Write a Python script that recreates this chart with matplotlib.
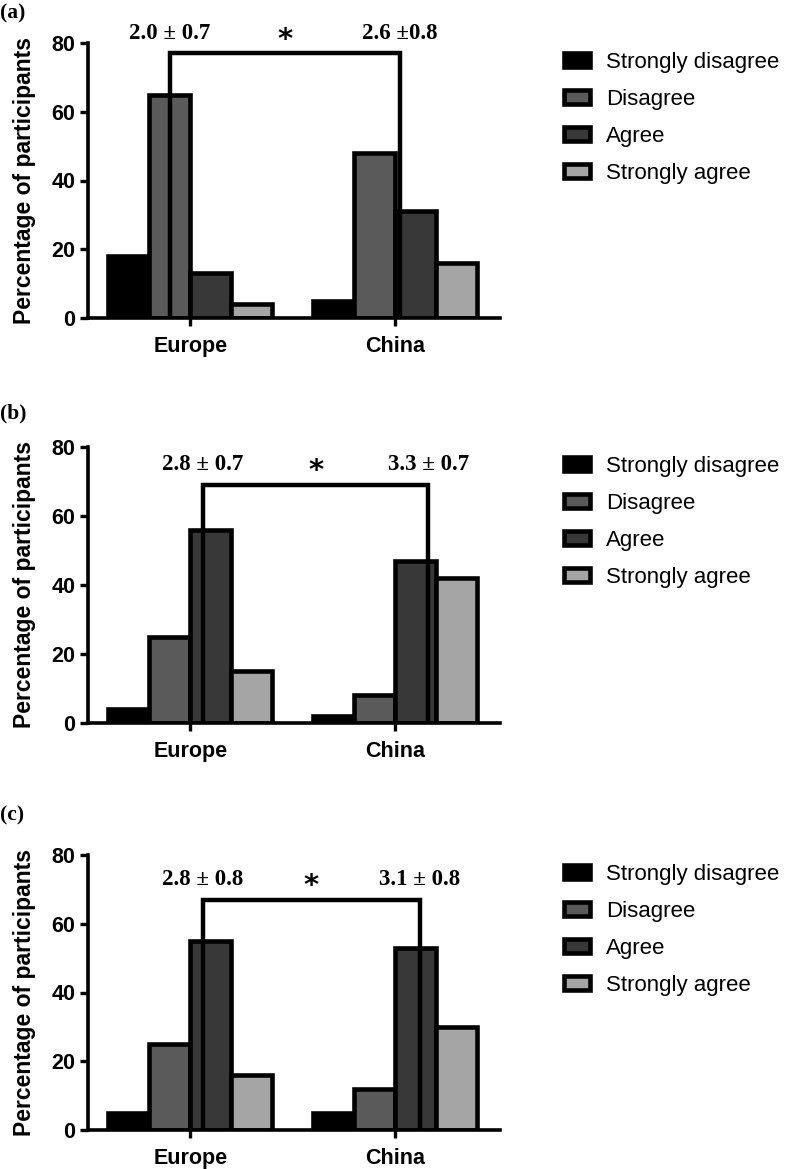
import matplotlib
matplotlib.use("Agg")
import matplotlib.pyplot as plt
import numpy as np

regions = ["Europe", "China"]
responses = ["Strongly disagree", "Disagree", "Agree", "Strongly agree"]
colors = ["#000000", "#5a5a5a", "#383838", "#a5a5a5"]

panel_labels = ["(a)", "(b)", "(c)"]
# values[panel][response] -> [Europe, China]
values_a = [[18, 5], [65, 48], [13, 31], [4, 16]]
values_b = [[4, 2], [25, 8], [56, 47], [15, 42]]
values_c = [[5, 5], [25, 12], [55, 53], [16, 30]]
means_a = [2.0, 2.6]
means_b = [2.8, 3.3]
means_c = [2.8, 3.1]
mean_texts_a = ["2.0 \u00b1 0.7", "2.6 \u00b10.8"]
mean_texts_b = ["2.8 \u00b1 0.7", "3.3 \u00b1 0.7"]
mean_texts_c = ["2.8 \u00b1 0.8", "3.1 \u00b1 0.8"]
bracket_heights = [77, 69, 67]
yticks = [0, 20, 40, 60, 80]

panels = [
    (values_a, means_a, mean_texts_a),
    (values_b, means_b, mean_texts_b),
    (values_c, means_c, mean_texts_c),
]

W, H = 787, 1169
fig = plt.figure(figsize=(W / 100, H / 100), dpi=100)

# axes boxes in pixels: (left, top, right, bottom)
boxes = [(88, 43, 500, 318), (88, 447, 500, 723), (88, 855, 500, 1130)]
label_y = [13, 413, 815]

bw = 0.2
x = np.arange(len(regions))

for p, ((vals, means, mtexts), box) in enumerate(zip(panels, boxes)):
    l, t, r, b = box
    ax = fig.add_axes([l / W, 1 - b / H, (r - l) / W, (b - t) / H])
    handles = []
    for i, resp in enumerate(responses):
        off = (i - 1.5) * bw
        h = ax.bar(x + off, vals[i], width=bw, color=colors[i], edgecolor="black",
                   linewidth=3.3, label=resp, zorder=2)
        handles.append(h)
    ax.set_xlim(-0.5, 1.51)
    ax.set_ylim(0, 80)
    ax.set_yticks(yticks)
    ax.set_xticks(x)
    ax.set_xticklabels(regions)
    for lab in ax.get_xticklabels() + ax.get_yticklabels():
        lab.set_fontfamily("Liberation Sans")
        lab.set_fontweight("bold")
        lab.set_fontsize(15.5)
    ax.tick_params(axis="both", width=2.4, length=6, direction="out")
    ax.tick_params(axis="y", pad=3)
    ax.tick_params(axis="x", pad=7)
    for s in ["top", "right"]:
        ax.spines[s].set_visible(False)
    for s in ["left", "bottom"]:
        ax.spines[s].set_linewidth(2.6)
        ax.spines[s].set_zorder(3)
    ax.set_ylabel("Percentage of participants", fontfamily="Liberation Sans",
                  fontweight="bold", fontsize=16.5)
    ax.yaxis.set_label_coords(-0.125, 0.5)

    # bracket
    legs = [x[j] + (means[j] - 2.5) * bw for j in range(2)]
    bh = bracket_heights[p]
    ax.plot([legs[0], legs[0], legs[1], legs[1]], [0, bh, bh, 0], color="black",
            linewidth=3.2, solid_joinstyle="miter", solid_capstyle="butt",
            zorder=4, clip_on=False)
    for j in range(2):
        ax.text(legs[j], bh + 5.8, mtexts[j], ha="center", va="center",
                fontfamily="Liberation Serif", fontweight="bold", fontsize=16.5,
                clip_on=False)
    ax.text((legs[0] + legs[1]) / 2, bh + 4.0, "*", ha="center", va="center",
            fontfamily="DejaVu Sans", fontweight="bold", fontsize=21, clip_on=False)

    leg = ax.legend(handles=handles, loc="upper left",
                    bbox_to_anchor=(564 / W, 1 - (t + 9) / H),
                    bbox_transform=fig.transFigure, frameon=False,
                    prop={"family": "Liberation Sans", "size": 16},
                    handlelength=1.15, handleheight=0.6, handletextpad=0.75,
                    labelspacing=0.72, borderpad=0, borderaxespad=0)

    fig.text(0, 1 - label_y[p] / H, panel_labels[p], ha="left", va="center",
             fontfamily="Liberation Serif", fontweight="bold", fontsize=15.5)

fig.savefig("out.png", dpi=100)
